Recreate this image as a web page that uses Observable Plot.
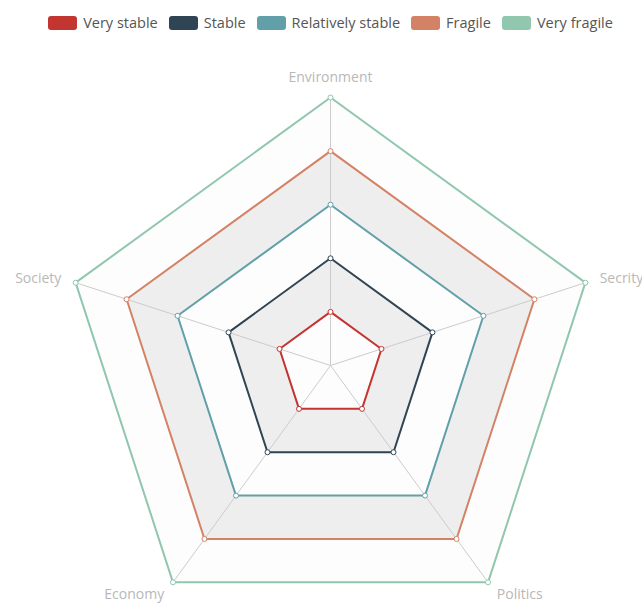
<!DOCTYPE html>
<html>
<head>
<meta charset="utf-8">
<script src="https://cdn.jsdelivr.net/npm/d3@7"></script>
<script src="https://cdn.jsdelivr.net/npm/@observablehq/plot@0.6"></script>
<style>
  html, body { margin: 0; padding: 0; background: #fff; overflow: hidden; }
  #wrap { position: relative; width: 642px; height: 604px; }
  #legend {
    position: absolute; top: 16px; left: 0; width: 661px;
    display: flex; justify-content: center; gap: 11px;
    font: 14.5px "Open Sans", sans-serif; color: #555; line-height: 14px;
  }
  #legend .item { display: flex; align-items: center; gap: 6px; white-space: nowrap; }
  #legend .sw { width: 29px; height: 14px; border-radius: 3px; }
</style>
</head>
<body>
<div id="wrap">
  <div id="chart"></div>
  <div id="legend"></div>
</div>
<script>
// Radar indicators, clockwise from the top
const indicators = ["Environment", "Secrity", "Politics", "Economy", "Society"];
const indicatorMax = 5;

// Series
const seriesNames = ["Very stable", "Stable", "Relatively stable", "Fragile", "Very fragile"];
const seriesColors = ["#c23531", "#2f4554", "#61a0a8", "#d48265", "#91c7ae"];
const veryStableValues = [1, 1, 1, 1, 1];
const stableValues = [2, 2, 2, 2, 2];
const relativelyStableValues = [3, 3, 3, 3, 3];
const fragileValues = [4, 4, 4, 4, 4];
const veryFragileValues = [5, 5, 5, 5, 5];
const seriesValues = [veryStableValues, stableValues, relativelyStableValues, fragileValues, veryFragileValues];

// Split rings of the radar grid
const splitLevels = [1, 2, 3, 4, 5];

const n = indicators.length;
const angle = i => (i * 2 * Math.PI) / n;
const polar = (v, i) => ({x: v * Math.sin(angle(i)), y: v * Math.cos(angle(i))});

const seriesPoints = seriesNames.flatMap((name, s) =>
  seriesValues[s].map((v, i) => ({series: name, ...polar(v, i)}))
);
const ringPoints = level => indicators.map((_, i) => ({level, ...polar(level, i)}));
const spokes = indicators.map((name, i) => ({name, ...polar(indicatorMax, i)}));

// Indicator names sit just outside the outer ring
const nameGap = 15 * (indicatorMax / 268);
const names = indicators.map((name, i) => {
  const p = polar(indicatorMax + nameGap, i);
  const side = Math.abs(p.x) < 1e-6 ? "middle" : p.x > 0 ? "start" : "end";
  return {name, side, ...p};
});

const bandFill = level => (level % 2 === 1 ? "#fdfdfd" : "#eeeeee");
const nameStyle = {x: "x", y: "y", text: "name", fill: "#b8b8b8", fontSize: 14};

const chart = Plot.plot({
  width: 642,
  height: 604,
  margin: 0,
  style: {fontFamily: "'Open Sans', sans-serif", background: "transparent"},
  x: {domain: [-indicatorMax, indicatorMax], range: [62, 598], axis: null},
  y: {domain: [-indicatorMax, indicatorMax], range: [633, 97], axis: null},
  color: {domain: seriesNames, range: seriesColors},
  marks: [
    ...splitLevels.slice().reverse().map(level =>
      Plot.line(ringPoints(level), {x: "x", y: "y", fill: bandFill(level), stroke: "#dddddd", strokeWidth: 1, curve: "linear-closed"})
    ),
    Plot.link(spokes, {x1: 0, y1: 0, x2: "x", y2: "y", stroke: "#cccccc", strokeWidth: 1}),
    Plot.line(seriesPoints, {x: "x", y: "y", z: "series", stroke: "series", strokeWidth: 2, curve: "linear-closed"}),
    Plot.dot(seriesPoints, {x: "x", y: "y", r: 2.5, fill: "white", stroke: "series", strokeWidth: 1}),
    Plot.text(names.filter(d => d.side === "middle"), {...nameStyle, textAnchor: "middle", lineAnchor: "bottom", dy: -1}),
    Plot.text(names.filter(d => d.side === "start"), {...nameStyle, textAnchor: "start", lineAnchor: "middle"}),
    Plot.text(names.filter(d => d.side === "end"), {...nameStyle, textAnchor: "end", lineAnchor: "middle"})
  ]
});
document.getElementById("chart").append(chart);

// Legend
const legend = d3.select("#legend");
seriesNames.forEach((name, i) => {
  const item = legend.append("div").attr("class", "item");
  item.append("div").attr("class", "sw").style("background", seriesColors[i]);
  item.append("span").text(name);
});
</script>
</body>
</html>
